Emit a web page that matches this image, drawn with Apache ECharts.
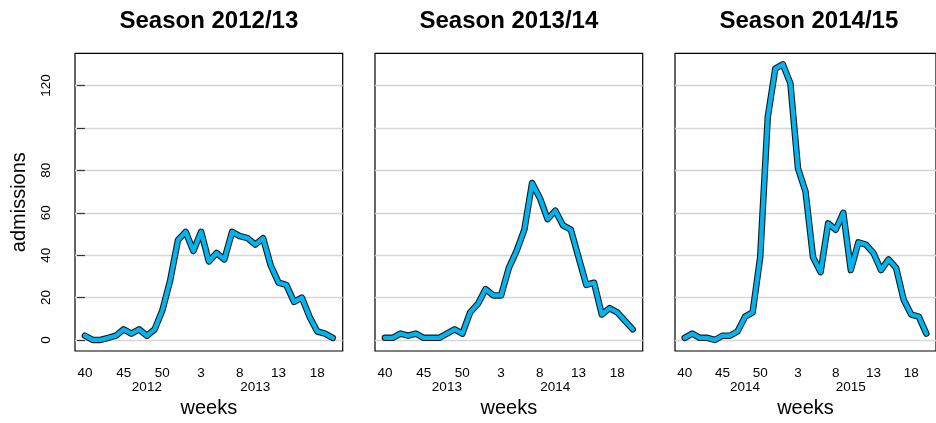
<!DOCTYPE html>
<html>
<head>
<meta charset="utf-8">
<script src="https://cdn.jsdelivr.net/npm/echarts@6/dist/echarts.min.js"></script>
<style>
html,body{margin:0;padding:0;background:#fff;}
#chart{width:936px;height:423px;}
</style>
</head>
<body>
<div id="chart"></div>
<script>
// ---- data ----
const weeks = [40,41,42,43,44,45,46,47,48,49,50,51,52,1,2,3,4,5,6,7,8,9,10,11,12,13,14,15,16,17,18,19,20];
const seasonTitles = ['Season 2012/13', 'Season 2013/14', 'Season 2014/15'];
const season1 = [2,0,0,1,2,5,3,5,2,5,14,28,47,51,42,51,37,41,38,51,49,48,45,48,35,27,26,18,20,11,4,3,1];
const season2 = [1,1,3,2,3,1,1,1,3,5,3,13,17,24,21,21,34,42,52,74,67,57,61,54,52,39,26,27,12,15,13,9,5];
const season3 = [1,3,1,1,0,2,2,4,11,13,39,105,128,130,121,81,70,39,32,55,52,60,33,46,45,41,33,38,34,19,12,11,3];
const weekTicks = [40,45,50,3,8,13,18];
const yearTickWeeks = [48,10];
const yearLabels = [['2012','2013'],['2013','2014'],['2014','2015']];
const yTicks = [0,20,40,60,80,100,120];
const yLabels = [0,20,40,60,80,120];
const yRange = [0,130];

// ---- layout ----
const FONT = 'Liberation Sans, Arial, Helvetica, sans-serif';
const gridLeft = [75,375,675];
const gridTop = 53.3, gridW = 267.7, gridH = 304.7;
const nWeeks = weeks.length;
const xPad = (nWeeks-1)*0.04;
const yPad = (yRange[1]-yRange[0])*0.04;
const seasons = [season1, season2, season3];

const grids = [], xAxes = [], yAxes = [], series = [], titles = [];
seasons.forEach((vals, k) => {
  grids.push({left: gridLeft[k], top: gridTop, width: gridW, height: gridH,
    show: true, borderColor: '#000', borderWidth: 1.2, backgroundColor: 'transparent'});
  titles.push({text: seasonTitles[k], left: gridLeft[k] + gridW/2, top: 9, textAlign: 'center', padding: 0,
    textStyle: {fontFamily: FONT, fontSize: 24, fontWeight: 'bold', color: '#000'}});
  const tickIdx = weekTicks.map(w => weeks.indexOf(w));
  xAxes.push({gridIndex: k, type: 'value', min: -xPad, max: nWeeks-1+xPad, position: 'bottom',
    axisLine: {show: false}, axisTick: {show: false}, splitLine: {show: false},
    axisLabel: {customValues: tickIdx, margin: 15, fontFamily: FONT, fontSize: 13.5, color: '#000',
      formatter: v => String(weeks[Math.round(v)])},
    name: 'weeks', nameLocation: 'middle', nameGap: 47,
    nameTextStyle: {fontFamily: FONT, fontSize: 20, color: '#000'}});
  const yIdx = yearTickWeeks.map(w => weeks.indexOf(w));
  xAxes.push({gridIndex: k, type: 'value', min: -xPad, max: nWeeks-1+xPad, position: 'bottom',
    axisLine: {show: false}, axisTick: {show: false}, splitLine: {show: false},
    axisLabel: {customValues: yIdx, margin: 29, fontFamily: FONT, fontSize: 13.5, color: '#000',
      formatter: v => yearLabels[k][yIdx.indexOf(Math.round(v))]}});
  yAxes.push({gridIndex: k, type: 'value', min: yRange[0]-yPad, max: yRange[1]+yPad,
    axisLine: {show: false},
    axisTick: {show: k === 0, customValues: yTicks, length: 8, lineStyle: {color: '#333', width: 1.2}},
    splitLine: {show: true, lineStyle: {color: '#d6d6d6', width: 1.3}},
    axisLabel: {show: k === 0, customValues: yLabels, rotate: 90, margin: 22, fontFamily: FONT, fontSize: 13.5, color: '#000'},
    name: k === 0 ? 'admissions' : '', nameLocation: 'middle', nameRotate: 90, nameGap: 46,
    nameTextStyle: {fontFamily: FONT, fontSize: 20, color: '#000'}});
  const pts = vals.map((v, i) => [i, v]);
  series.push({type: 'line', xAxisIndex: 2*k, yAxisIndex: k, data: pts, showSymbol: false, symbol: 'none',
    silent: true, animation: false,
    lineStyle: {color: '#1a1a1a', width: 6.5, cap: 'round', join: 'round'}});
  series.push({type: 'line', xAxisIndex: 2*k, yAxisIndex: k, data: pts, showSymbol: false, symbol: 'none',
    silent: true, animation: false,
    lineStyle: {color: '#00B4F0', width: 4.3, cap: 'round', join: 'round'}});
});

const chart = echarts.init(document.getElementById('chart'), null, {renderer: 'canvas'});
chart.setOption({
  animation: false,
  backgroundColor: '#fff',
  title: titles,
  grid: grids,
  xAxis: xAxes,
  yAxis: yAxes,
  series: series
});
</script>
</body>
</html>
